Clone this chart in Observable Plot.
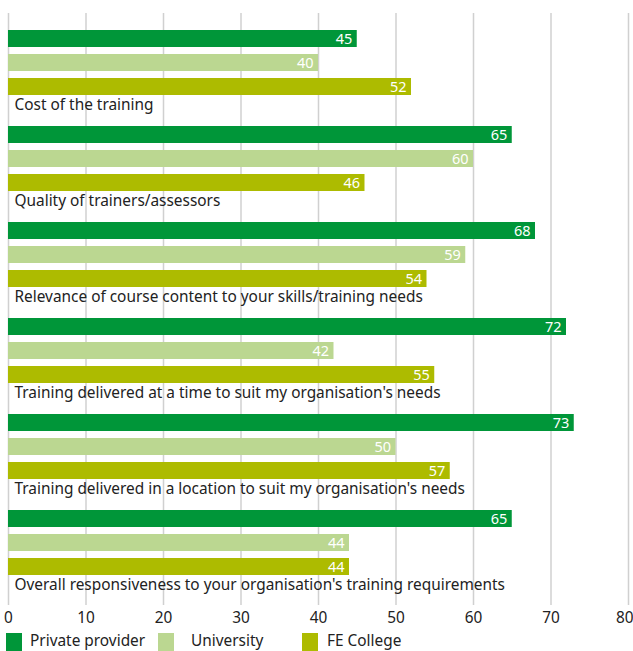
<!DOCTYPE html>
<html>
<head>
<meta charset="utf-8">
<script src="https://cdn.jsdelivr.net/npm/d3@7"></script>
<script src="https://cdn.jsdelivr.net/npm/@observablehq/plot@0.6"></script>
<style>
  html, body { margin: 0; padding: 0; background: #fff; }
  body { width: 633px; height: 651px; overflow: hidden; position: relative; font-family: "Noto Sans", sans-serif; }
  #chart svg { display: block; }
  .legend { position: absolute; left: 0; top: 633px; width: 633px; height: 18px; font-size: 15.4px; color: #222; }
  .legend .sw { position: absolute; top: 0; width: 16px; height: 18px; }
  .legend .lb { position: absolute; top: -2px; line-height: 20px; white-space: nowrap; }
</style>
</head>
<body>
<div id="chart"></div>
<div class="legend" id="legend"></div>
<script>
const categories = [
  "Cost of the training",
  "Quality of trainers/assessors",
  "Relevance of course content to your skills/training needs",
  "Training delivered at a time to suit my organisation's needs",
  "Training delivered in a location to suit my organisation's needs",
  "Overall responsiveness to your organisation's training requirements"
];
const seriesNames = ["Private provider", "University", "FE College"];
const privateProvider = [45, 65, 68, 72, 73, 65];
const university = [40, 60, 59, 42, 50, 44];
const feCollege = [52, 46, 54, 55, 57, 44];
const xTicks = [0, 10, 20, 30, 40, 50, 60, 70, 80];

const seriesValues = [privateProvider, university, feCollege];
const colors = ["#009639", "#bbd791", "#adbb00"];

const keys = [];
const bars = [];
const labels = [];
categories.forEach((c, i) => {
  seriesNames.forEach((s, j) => {
    const key = `${i}-${j}`;
    keys.push(key);
    bars.push({key, series: s, value: seriesValues[j][i]});
  });
  const lk = `${i}-3`;
  keys.push(lk);
  labels.push({key: lk, label: c});
});

const lastTick = xTicks[xTicks.length - 1];
const innerTicks = xTicks.slice(0, -1);

const chart = Plot.plot({
  width: 633,
  height: 628,
  marginLeft: 8,
  marginRight: 5,
  marginTop: 13,
  marginBottom: 23,
  style: {fontFamily: "Noto Sans, sans-serif", background: "#fff"},
  x: {domain: [0, 80], ticks: xTicks, label: null},
  y: {domain: keys, range: [26, 602], paddingInner: 0.3, paddingOuter: 0.15, axis: null},
  color: {domain: seriesNames, range: colors},
  marks: [
    Plot.ruleX(xTicks, {stroke: "#d0d0d0", strokeWidth: 1.5}),
    Plot.axisX({ticks: innerTicks, tickSize: 0, tickPadding: 7, fontSize: 15.4, fill: "#222", label: null}),
    Plot.axisX({ticks: [lastTick], tickSize: 0, tickPadding: 7, fontSize: 15.4, fill: "#222", label: null, textAnchor: "end", dx: 5}),
    Plot.barX(bars, {x: "value", y: "key", fill: "series"}),
    Plot.text(bars, {x: "value", y: "key", text: d => String(d.value), textAnchor: "end", dx: -5, fill: "white", fontSize: 14.5}),
    Plot.text(labels, {x: 0, y: "key", text: "label", textAnchor: "start", dx: 6, dy: -6, fill: "#222", fontSize: 15.4})
  ]
});
document.getElementById("chart").appendChild(chart);

const legendPos = [[6, 30], [158, 191], [302, 327]];
const legend = document.getElementById("legend");
seriesNames.forEach((s, j) => {
  const sw = document.createElement("div");
  sw.className = "sw";
  sw.style.left = legendPos[j][0] + "px";
  sw.style.background = colors[j];
  legend.appendChild(sw);
  const lb = document.createElement("div");
  lb.className = "lb";
  lb.style.left = legendPos[j][1] + "px";
  lb.textContent = s;
  legend.appendChild(lb);
});
</script>
</body>
</html>
